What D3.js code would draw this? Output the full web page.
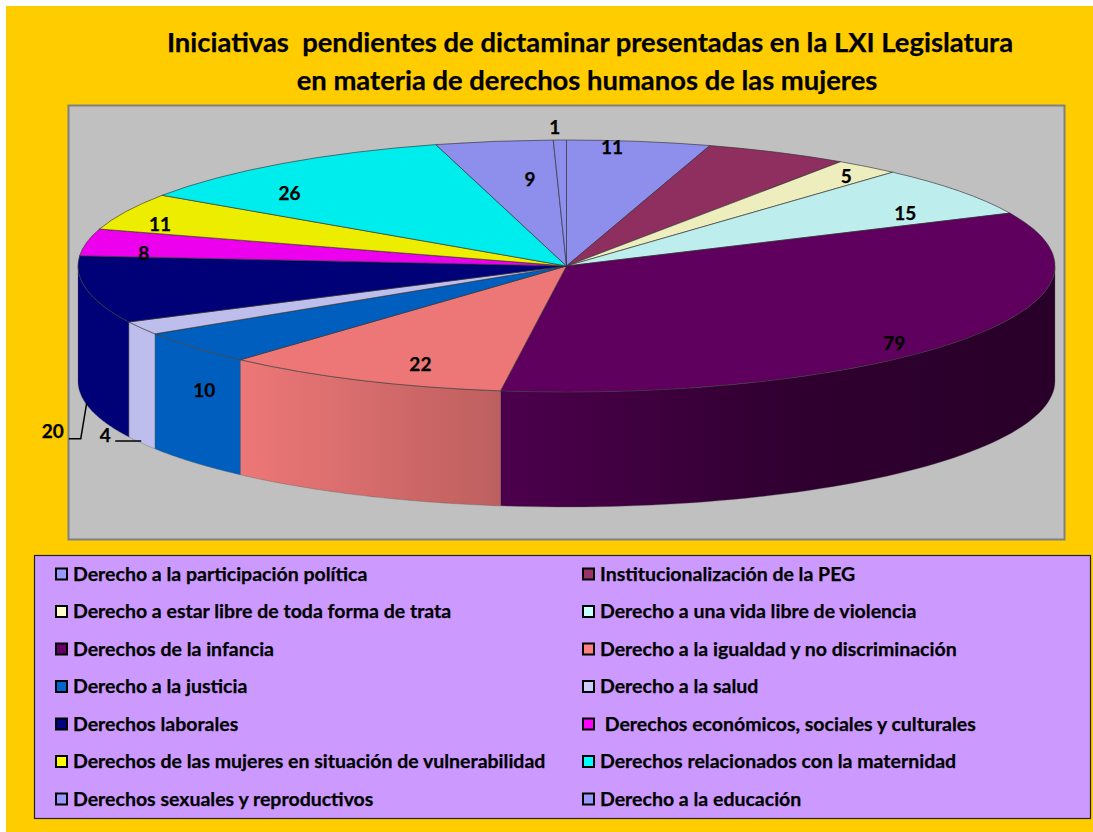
<!DOCTYPE html>
<html lang="es">
<head>
    <meta charset="UTF-8">
    <title>Iniciativas pendientes</title>
    <style>
        body { margin: 0; background: #fff; }
        text { font-family: Lato, "Open Sans", sans-serif; font-weight: 700; fill: #000; stroke: #000; stroke-width: 0.25px; }
    </style>
</head>
<body>
<svg id="chart" width="1093" height="832" style="display:block"></svg>
<script src="https://cdn.jsdelivr.net/npm/d3@7"></script>
<script>
    var categories = [
        "Derecho a la participación política", "Institucionalización de la PEG",
        "Derecho a estar libre de toda forma de trata", "Derecho a una vida libre de violencia",
        "Derechos de la infancia", "Derecho a la igualdad y no discriminación",
        "Derecho a la justicia", "Derecho a la salud",
        "Derechos laborales", " Derechos económicos, sociales y culturales",
        "Derechos de las mujeres en situación de vulnerabilidad", "Derechos relacionados con la maternidad",
        "Derechos sexuales y reproductivos", "Derecho a la educación"
    ];
    var values = [11, 11, 5, 15, 79, 22, 10, 4, 20, 8, 11, 26, 9, 1];
    var colours = ["#9999ff", "#993366", "#ffffcc", "#ccffff", "#660066", "#ff8080", "#0066cc",
        "#ccccff", "#000080", "#ff00ff", "#ffff00", "#00ffff", "#9999ff", "#9999ff"];
    var titleLines = ["Iniciativas  pendientes de dictaminar presentadas en la LXI Legislatura",
        "en materia de derechos humanos de las mujeres"];

    // label offset from the point on the rim at the middle of the slice, PEG has no label
    var labelOffsets = [[-27, 6], null, [-21, 10], [-54, 22], [-65, 2], [59, -16], [10, 43],
        [-36, 107], [-34, 142], [57, 11], [34, 13], [8, 30], [36, 38], [-5, -12.5]];

    var cx = 566.5, cy = 266, rx = 488.5, ry = 126, depth = 115;

    var svg = d3.select("#chart");

    svg.append("rect").attr("x", 6).attr("y", 6).attr("width", 1087).attr("height", 826).attr("fill", "#ffcc00");

    svg.selectAll(".title")
        .data(titleLines)
        .enter()
        .append("text")
        .attr("class", "title")
        .attr("x", function(d, i) { return i == 0 ? 590 : 587; })
        .attr("y", function(d, i) { return 52 + i * 38; })
        .attr("text-anchor", "middle")
        .style("font-size", "27.4px")
        .style("white-space", "pre")
        .text(function(d) { return d; });

    svg.append("rect").attr("x", 68.5).attr("y", 105.5).attr("width", 996).attr("height", 434)
        .attr("fill", "#c0c0c0").attr("stroke", "#808080").attr("stroke-width", 2);

    var pie = d3.pie().sort(null).value(function(d) { return d; });
    var arcs = pie(values);

    function rimX(a) { return cx + rx * Math.sin(a); }
    function rimY(a) { return cy - ry * Math.cos(a); }

    // the side wall gets darker towards the right, as in the 3D chart
    var shade = d3.scaleLinear().domain([240, 500, 800, 1055]).range([1, 0.8, 0.5, 0.43]).clamp(true);
    var defs = svg.append("defs");
    arcs.forEach(function(d, i) {
        var g = defs.append("linearGradient")
            .attr("id", "wall" + i)
            .attr("gradientUnits", "userSpaceOnUse")
            .attr("x1", 240).attr("x2", 1055).attr("y1", 0).attr("y2", 0);
        d3.range(0, 1.001, 0.05).forEach(function(t) {
            var c = d3.rgb(colours[i]), k = shade(240 + t * 815) * 0.93;
            g.append("stop")
                .attr("offset", t)
                .attr("stop-color", d3.rgb(c.r * k, c.g * k, c.b * k).formatHex());
        });
    });

    var sides = svg.append("g");
    var wallLine = d3.line();
    arcs.forEach(function(d, i) {
        var a0 = Math.max(d.startAngle, Math.PI / 2), a1 = Math.min(d.endAngle, Math.PI * 1.5);
        if (a1 <= a0) return;
        var steps = d3.range(0, 61).map(function(k) { return a0 + (a1 - a0) * k / 60; });
        var pts = steps.map(function(a) { return [rimX(a), rimY(a)]; })
            .concat(steps.slice().reverse().map(function(a) { return [rimX(a), rimY(a) + depth]; }));
        sides.append("path")
            .attr("d", wallLine(pts) + "Z")
            .attr("fill", "url(#wall" + i + ")")
            .attr("stroke", "#555")
            .attr("stroke-opacity", 0.5)
            .attr("stroke-width", 0.7);
    });

    var arc = d3.arc().innerRadius(0).outerRadius(rx);
    svg.append("g")
        .attr("transform", "translate(" + cx + "," + cy + ") scale(1," + (ry / rx) + ")")
        .selectAll("path")
        .data(arcs)
        .enter()
        .append("path")
        .attr("d", arc)
        .attr("fill", function(d, i) {
            var c = d3.rgb(colours[i]);
            return d3.rgb(c.r * 0.93, c.g * 0.93, c.b * 0.93).formatHex();
        })
        .attr("stroke", "#333")
        .attr("stroke-width", 0.8)
        .attr("stroke-opacity", 0.8)
        .attr("vector-effect", "non-scaling-stroke");

    // labels
    arcs.forEach(function(d, i) {
        var off = labelOffsets[i];
        if (!off) return;
        var mid = (d.startAngle + d.endAngle) / 2;
        svg.append("text")
            .attr("x", rimX(mid) + off[0])
            .attr("y", rimY(mid) + off[1])
            .attr("text-anchor", "middle")
            .attr("dy", "0.35em")
            .style("font-size", "19px")
            .text(values[i]);
    });

    // leader lines of the two labels outside the pie
    function leader(i, points) {
        var mid = (arcs[i].startAngle + arcs[i].endAngle) / 2;
        var x = rimX(mid), y = rimY(mid) + depth;
        svg.append("path")
            .attr("d", d3.line()(points.map(function(p) { return [x + p[0], y + p[1]]; })))
            .attr("fill", "none")
            .attr("stroke", "#000")
            .attr("stroke-width", 1.5);
    }
    leader(7, [[-26, -2], [0, -2]]);
    leader(8, [[-18, 34], [-6, 34], [0, -2]]);

    // legend
    svg.append("rect").attr("x", 34.5).attr("y", 555.5).attr("width", 1056).attr("height", 263)
        .attr("fill", "#cc99ff").attr("stroke", "#222").attr("stroke-width", 1.2);

    var legendY = d3.scalePoint().domain(d3.range(7)).range([574, 799]);
    var legendX = [55, 582];
    var items = svg.selectAll(".item")
        .data(categories)
        .enter()
        .append("g")
        .attr("class", "item")
        .attr("transform", function(d, i) {
            return "translate(" + legendX[i % 2] + "," + legendY(Math.floor(i / 2)) + ")";
        });
    items.append("rect")
        .attr("x", 1).attr("y", -5.5).attr("width", 11).attr("height", 11)
        .attr("fill", function(d, i) { return colours[i]; })
        .attr("stroke", "#000").attr("stroke-width", 2);
    items.append("text")
        .attr("x", 18)
        .attr("dy", "0.35em")
        .style("font-size", "19.5px")
        .style("white-space", "pre")
        .text(function(d) { return d; });
</script>
</body>
</html>
